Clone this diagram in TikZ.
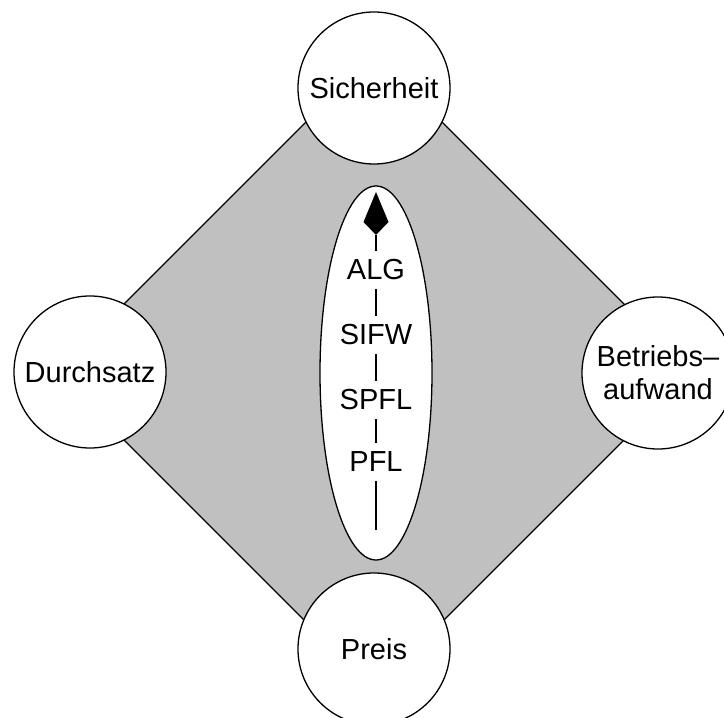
\documentclass[tikz,border=0pt]{standalone}
\usepackage{fontspec}
\setmainfont{Liberation Sans}
\usetikzlibrary{shapes.geometric}
\begin{document}
\begin{tikzpicture}[x=1pt,y=1pt,
  crit/.style={circle,draw=black,line width=1.3pt,fill=white,minimum size=152pt,inner sep=0pt,align=center,font=\fontsize{29}{33}\selectfont},
  lbl/.style={fill=white,inner sep=0pt,minimum height=38pt,font=\fontsize{29}{33}\selectfont}]
\useasboundingbox (0,0) rectangle (724,718);
\fill[fill={rgb,255:red,192;green,192;blue,192},draw=black,line width=1.2pt]
  (374,664) -- (692,346) -- (374,28) -- (56,346) -- cycle;
\node[crit] (sich) at (374,630) {Sicherheit};
\node[crit] (durch) at (90,346) {Durchsatz};
\node[crit] (betr) at (658,345) {Betriebs–\\aufwand};
\node[crit] (preis) at (374,69) {Preis};
\node[ellipse,draw=black,line width=1.3pt,fill=white,minimum width=112pt,minimum height=374pt,inner sep=0pt] (ell) at (376,345) {};
\coordinate (abot) at (376,188);
\coordinate (atop) at (376,483);
\draw[line width=2.4pt] (abot) -- (atop);
\fill[black] (atop) -- (388.5,496) -- (376,526) -- (363.5,496) -- cycle;
\node[lbl] (alg) at (376,448) {ALG};
\node[lbl] (sifw) at (376,383) {SIFW};
\node[lbl] (spfl) at (376,318) {SPFL};
\node[lbl] (pfl) at (376,256) {PFL};
\end{tikzpicture}
\end{document}
